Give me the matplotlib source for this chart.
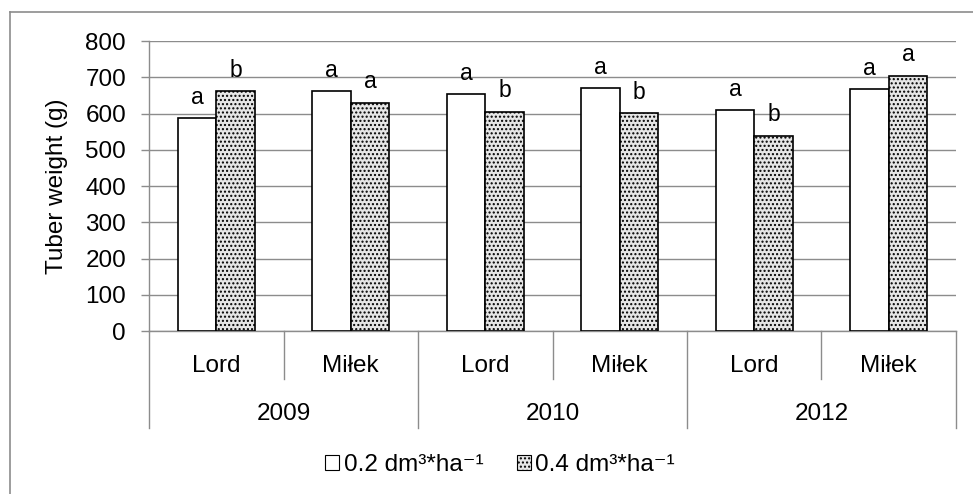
import matplotlib
matplotlib.use('Agg')
import matplotlib.pyplot as plt
from matplotlib.lines import Line2D
from matplotlib.patches import Patch
import numpy as np

# data
years = ['2009', '2010', '2012']
cultivars = ['Lord', 'Miłek', 'Lord', 'Miłek', 'Lord', 'Miłek']
dose_02 = [587, 661, 653, 670, 609, 667]
dose_04 = [661, 630, 605, 601, 538, 704]
letters_02 = ['a', 'a', 'a', 'a', 'a', 'a']
letters_04 = ['b', 'a', 'b', 'b', 'b', 'a']
series_labels = ['0.2 dm³*ha⁻¹', '0.4 dm³*ha⁻¹']
yticks = [0, 100, 200, 300, 400, 500, 600, 700, 800]

plt.rcParams['font.family'] = ['Liberation Sans', 'DejaVu Sans']
plt.rcParams['hatch.color'] = '#1a1a1a'
plt.rcParams['hatch.linewidth'] = 1.0

grey = '#8c8c8c'
fs = 17.5
W, H = 973, 494

fig = plt.figure(figsize=(W / 100, H / 100), dpi=100)
ax = fig.add_axes([149 / W, 1 - 331 / H, (956 - 149) / W, (331 - 41) / H])

x = np.arange(len(cultivars))
bw = 0.286
b1 = ax.bar(x - bw / 2, dose_02, bw, color='white', edgecolor='black',
            linewidth=1.2, zorder=3, label=series_labels[0])
b2 = ax.bar(x + bw / 2, dose_04, bw, color='#e6e6e6', edgecolor='black',
            linewidth=1.2, hatch='....', zorder=3, label=series_labels[1])

# significance letters
for bars, letters in [(b1, letters_02), (b2, letters_04)]:
    for rect, let in zip(bars, letters):
        ax.annotate(let, xy=(rect.get_x() + rect.get_width() / 2, rect.get_height()),
                    xytext=(0, 10.5), textcoords='offset points',
                    ha='center', va='baseline', fontsize=16.5)

ax.set_xlim(-0.5, len(cultivars) - 0.5)
ax.set_ylim(0, 800)
ax.set_yticks(yticks)
ax.yaxis.grid(True, color=grey, linewidth=1.0, zorder=0)
ax.set_axisbelow(True)
ax.tick_params(axis='y', direction='out', length=6, width=1.0, color=grey,
               labelsize=fs, pad=10.5)
ax.tick_params(axis='x', bottom=False, labelbottom=False)
for s in ['top', 'right']:
    ax.spines[s].set_visible(False)
for s in ['left', 'bottom']:
    ax.spines[s].set_color(grey)
    ax.spines[s].set_linewidth(1.0)

ax.set_ylabel('Tuber weight (g)', fontsize=fs)
ax.yaxis.set_label_coords((68 - 149) / 807, 0.5)

# multi-level category axis
tr = ax.get_xaxis_transform()
short = -(379 - 331) / 290
long_ = -(428 - 331) / 290
for i in range(len(cultivars) + 1):
    edge = i - 0.5
    y_end = long_ if i % 2 == 0 else short
    ax.add_line(Line2D([edge, edge], [0, y_end], transform=tr, color=grey,
                       linewidth=1.0, clip_on=False))
for i, c in enumerate(cultivars):
    ax.text(i, -(371.5 - 331) / 290, c, transform=tr, ha='center',
            va='baseline', fontsize=fs)
for j, yr in enumerate(years):
    ax.text(2 * j + 0.5, -(420 - 331) / 290, yr, transform=tr, ha='center',
            va='baseline', fontsize=fs)

handles = [Patch(facecolor='white', edgecolor='black', linewidth=0.8),
           Patch(facecolor='#e6e6e6', edgecolor='black', linewidth=0.8, hatch='....')]
fig.legend(handles, series_labels, loc='center', bbox_to_anchor=(500 / W, 1 - 465 / H),
           ncol=2, frameon=False, fontsize=fs, handlelength=0.58, handleheight=0.58,
           handletextpad=0.2, columnspacing=1.36, borderpad=0.1)

# outer chart border (top and left visible)
fig.add_artist(Line2D([10 / W, 10 / W], [1 - 12 / H, 0], color=grey, linewidth=1.2))
fig.add_artist(Line2D([10 / W, 1], [1 - 12 / H, 1 - 12 / H], color=grey, linewidth=1.2))

fig.savefig('out.png', dpi=100)
